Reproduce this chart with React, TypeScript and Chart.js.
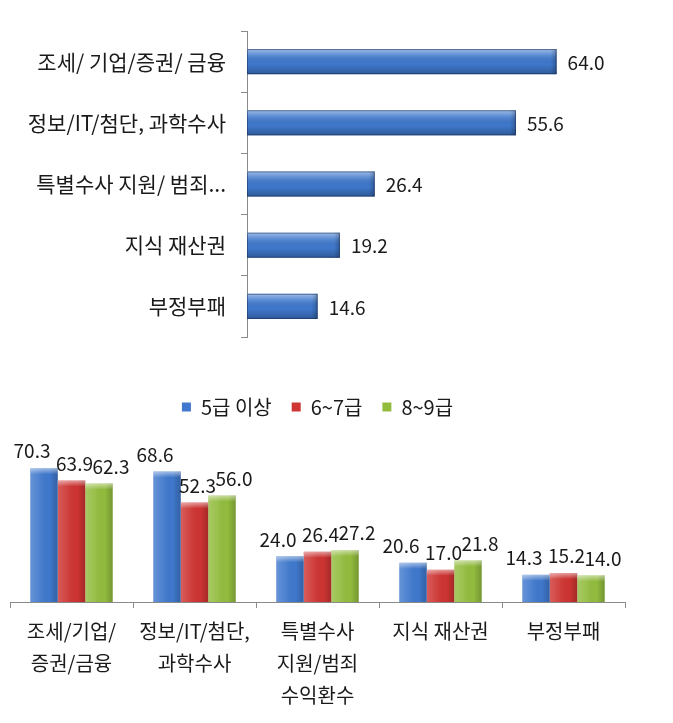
import React, { useEffect, useRef } from "react";
import { Chart, registerables } from "chart.js";

Chart.register(...registerables);

const FONT = '"Noto Sans CJK KR", "Noto Sans", sans-serif';

// Top chart data
const topCategories = [
  "조세/ 기업/증권/ 금융",
  "정보/IT/첨단, 과학수사",
  "특별수사 지원/ 범죄...",
  "지식 재산권",
  "부정부패",
];
const topValues = [64.0, 55.6, 26.4, 19.2, 14.6];

// Bottom chart data
const bottomCategories = [
  ["조세/기업/", "증권/금융"],
  ["정보/IT/첨단,", "과학수사"],
  ["특별수사", "지원/범죄", "수익환수"],
  ["지식 재산권"],
  ["부정부패"],
];
const seriesNames = ["5급 이상", "6~7급", "8~9급"];
const grade5Values = [70.3, 68.6, 24.0, 20.6, 14.3];
const grade67Values = [63.9, 52.3, 26.4, 17.0, 15.2];
const grade89Values = [62.3, 56.0, 27.2, 21.8, 14.0];

const BLUE = "#3F78CC";
const RED = "#CD3432";
const GREEN = "#92BC3E";
const seriesColors = [BLUE, RED, GREEN];

const shadePlugin = {
  id: "shade",
  afterDatasetsDraw(chart: any) {
    const ctx = chart.ctx;
    const horizontal = chart.options.indexAxis === "y";
    chart.data.datasets.forEach((_ds: any, di: number) => {
      const meta = chart.getDatasetMeta(di);
      meta.data.forEach((el: any) => {
        const p = el.getProps(["x", "y", "base", "width", "height"], true);
        ctx.save();
        if (horizontal) {
          const top = p.y - p.height / 2;
          const bottom = p.y + p.height / 2;
          const left = Math.min(p.base, p.x);
          const right = Math.max(p.base, p.x);
          const g = ctx.createLinearGradient(0, top, 0, bottom);
          g.addColorStop(0, "rgba(255,255,255,0.5)");
          g.addColorStop(0.25, "rgba(255,255,255,0.15)");
          g.addColorStop(0.6, "rgba(0,0,0,0)");
          g.addColorStop(1, "rgba(0,0,0,0.25)");
          ctx.fillStyle = g;
          ctx.fillRect(left, top, right - left, bottom - top);
          const g2 = ctx.createLinearGradient(right - 6, 0, right, 0);
          g2.addColorStop(0, "rgba(0,0,0,0)");
          g2.addColorStop(1, "rgba(0,0,0,0.22)");
          ctx.fillStyle = g2;
          ctx.fillRect(right - 6, top, 6, bottom - top);
          ctx.strokeStyle = "rgba(20,40,80,0.5)";
          ctx.lineWidth = 1;
          ctx.strokeRect(left + 0.5, top + 0.5, right - left - 1, bottom - top - 1);
        } else {
          const left = p.x - p.width / 2;
          const right = p.x + p.width / 2;
          const top = Math.min(p.y, p.base);
          const bottom = Math.max(p.y, p.base);
          const g = ctx.createLinearGradient(left, 0, right, 0);
          g.addColorStop(0, "rgba(255,255,255,0.2)");
          g.addColorStop(0.35, "rgba(255,255,255,0.07)");
          g.addColorStop(0.7, "rgba(0,0,0,0)");
          g.addColorStop(1, "rgba(0,0,0,0.2)");
          ctx.fillStyle = g;
          ctx.fillRect(left, top, right - left, bottom - top);
          const g2 = ctx.createLinearGradient(0, top, 0, top + 6);
          g2.addColorStop(0, "rgba(255,255,255,0.5)");
          g2.addColorStop(1, "rgba(255,255,255,0)");
          ctx.fillStyle = g2;
          ctx.fillRect(left, top, right - left, 6);
        }
        ctx.restore();
      });
    });
  },
};

const topLabelPlugin = {
  id: "topLabels",
  afterDatasetsDraw(chart: any) {
    const ctx = chart.ctx;
    const meta = chart.getDatasetMeta(0);
    ctx.save();
    ctx.font = `19px ${FONT}`;
    ctx.fillStyle = "#1a1a1a";
    ctx.textAlign = "left";
    ctx.textBaseline = "middle";
    meta.data.forEach((el: any, i: number) => {
      const v = chart.data.datasets[0].data[i];
      ctx.fillText(Number(v).toFixed(1), el.x + 11, el.y + 1);
    });
    ctx.restore();
  },
};

const bottomLabelPlugin = {
  id: "bottomLabels",
  afterDatasetsDraw(chart: any) {
    const ctx = chart.ctx;
    const shifts = [-12, 3, 12];
    ctx.save();
    ctx.font = `19px ${FONT}`;
    ctx.fillStyle = "#1a1a1a";
    ctx.textAlign = "center";
    ctx.textBaseline = "middle";
    chart.data.datasets.forEach((ds: any, di: number) => {
      const meta = chart.getDatasetMeta(di);
      meta.data.forEach((el: any, i: number) => {
        ctx.fillText(Number(ds.data[i]).toFixed(1), el.x + shifts[di], el.y - 17);
      });
    });
    ctx.restore();
  },
};

export default function App() {
  const topRef = useRef<HTMLCanvasElement | null>(null);
  const bottomRef = useRef<HTMLCanvasElement | null>(null);

  useEffect(() => {
    const topChart = new Chart(topRef.current as HTMLCanvasElement, {
      type: "bar",
      data: {
        labels: topCategories,
        datasets: [
          {
            data: topValues,
            backgroundColor: BLUE,
            borderWidth: 0,
            barPercentage: 0.41,
            categoryPercentage: 1,
          },
        ],
      },
      options: {
        indexAxis: "y",
        responsive: false,
        animation: false,
        layout: { padding: { top: 31, bottom: 8, right: 39, left: 0 } },
        plugins: { legend: { display: false }, tooltip: { enabled: false } },
        scales: {
          x: { display: false, min: 0, max: 80 },
          y: {
            grid: {
              display: true,
              drawOnChartArea: false,
              offset: true,
              tickLength: 6,
              color: "#8a8a8a",
            },
            border: { display: true, color: "#8a8a8a" },
            ticks: { font: { family: FONT, size: 21 }, color: "#1a1a1a", padding: 15 },
            afterFit: (s: any) => {
              s.width = 247;
              s.paddingTop = 0;
              s.paddingBottom = 0;
            },
          },
        },
      },
      plugins: [shadePlugin, topLabelPlugin],
    } as any);

    const bottomChart = new Chart(bottomRef.current as HTMLCanvasElement, {
      type: "bar",
      data: {
        labels: bottomCategories,
        datasets: [
          { label: seriesNames[0], data: grade5Values, backgroundColor: seriesColors[0] },
          { label: seriesNames[1], data: grade67Values, backgroundColor: seriesColors[1] },
          { label: seriesNames[2], data: grade89Values, backgroundColor: seriesColors[2] },
        ].map((d) => ({ ...d, borderWidth: 0, barPercentage: 1, categoryPercentage: 0.67 })),
      },
      options: {
        responsive: false,
        animation: false,
        layout: { padding: { top: 32, bottom: 0, left: 10, right: 48 } },
        plugins: {
          tooltip: { enabled: false },
          legend: {
            display: true,
            position: "top",
            fullSize: false,
            labels: {
              font: { family: FONT, size: 20 },
              color: "#1a1a1a",
              boxWidth: 9,
              boxHeight: 9,
              padding: 20,
            },
          },
        },
        scales: {
          y: { display: false, min: 0, max: 92 },
          x: {
            grid: {
              display: true,
              drawOnChartArea: false,
              offset: true,
              tickLength: 6,
              color: "#8a8a8a",
            },
            border: { display: true, color: "#8a8a8a" },
            ticks: {
              font: { family: FONT, size: 20, lineHeight: 1.58 },
              color: "#1a1a1a",
              padding: 8,
              maxRotation: 0,
              autoSkip: false,
            },
            afterFit: (s: any) => {
              s.height = 121;
            },
          },
        },
      },
      plugins: [shadePlugin, bottomLabelPlugin],
    } as any);

    return () => {
      topChart.destroy();
      bottomChart.destroy();
    };
  }, []);

  return (
    <div
      style={{
        position: "absolute",
        left: 0,
        top: 0,
        width: 673,
        height: 723,
        background: "#ffffff",
      }}
    >
      <canvas
        ref={topRef}
        width={673}
        height={345}
        style={{ position: "absolute", left: 0, top: 0, width: 673, height: 345 }}
      />
      <canvas
        ref={bottomRef}
        width={673}
        height={378}
        style={{ position: "absolute", left: 0, top: 345, width: 673, height: 378 }}
      />
    </div>
  );
}
